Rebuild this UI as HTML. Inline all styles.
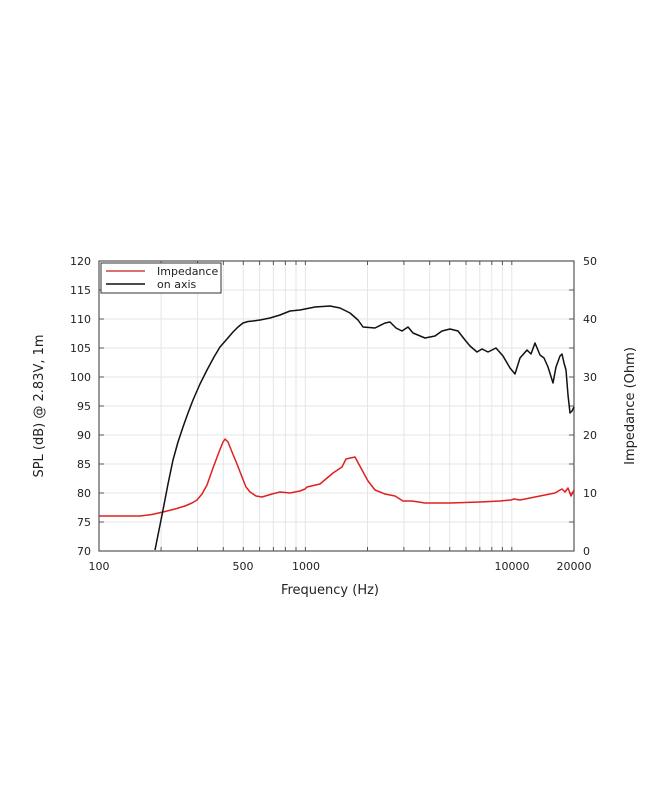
<!DOCTYPE html>
<html><head><style>body{margin:0;background:#fff}svg{display:block}text{font-family:"DejaVu Sans","Liberation Sans",sans-serif;fill:#222}</style></head><body>
<svg width="650" height="794" viewBox="0 0 650 794" xmlns="http://www.w3.org/2000/svg">
<g stroke="#e6e6e6" stroke-width="1">
<line x1="161.1" y1="261" x2="161.1" y2="551"/><line x1="197.5" y1="261" x2="197.5" y2="551"/><line x1="223.3" y1="261" x2="223.3" y2="551"/><line x1="243.3" y1="261" x2="243.3" y2="551"/><line x1="259.6" y1="261" x2="259.6" y2="551"/><line x1="273.4" y1="261" x2="273.4" y2="551"/><line x1="285.4" y1="261" x2="285.4" y2="551"/><line x1="296" y1="261" x2="296" y2="551"/><line x1="305.4" y1="261" x2="305.4" y2="551"/>
<line x1="367.5" y1="261" x2="367.5" y2="551"/><line x1="403.9" y1="261" x2="403.9" y2="551"/><line x1="429.7" y1="261" x2="429.7" y2="551"/><line x1="449.7" y1="261" x2="449.7" y2="551"/><line x1="466" y1="261" x2="466" y2="551"/><line x1="479.8" y1="261" x2="479.8" y2="551"/><line x1="491.8" y1="261" x2="491.8" y2="551"/><line x1="502.4" y1="261" x2="502.4" y2="551"/><line x1="511.8" y1="261" x2="511.8" y2="551"/>
<line x1="99" y1="290" x2="574" y2="290"/><line x1="99" y1="319" x2="574" y2="319"/><line x1="99" y1="348" x2="574" y2="348"/><line x1="99" y1="377" x2="574" y2="377"/><line x1="99" y1="406" x2="574" y2="406"/><line x1="99" y1="435" x2="574" y2="435"/><line x1="99" y1="464" x2="574" y2="464"/><line x1="99" y1="493" x2="574" y2="493"/><line x1="99" y1="522" x2="574" y2="522"/>
</g>
<rect x="99" y="261" width="475" height="290" fill="none" stroke="#555" stroke-width="1.2"/>
<g stroke="#555" stroke-width="1">
<path d="M99 290h5M99 319h5M99 348h5M99 377h5M99 406h5M99 435h5M99 464h5M99 493h5M99 522h5M574 290h-5M574 319h-5M574 348h-5M574 377h-5M574 406h-5M574 435h-5M574 464h-5M574 493h-5M574 522h-5"/>
<path d="M161.1 551v-4M197.5 551v-4M223.3 551v-4M243.3 551v-4M259.6 551v-4M273.4 551v-4M285.4 551v-4M296 551v-4M305.4 551v-4M367.5 551v-4M403.9 551v-4M429.7 551v-4M449.7 551v-4M466 551v-4M479.8 551v-4M491.8 551v-4M502.4 551v-4M511.8 551v-4M161.1 261v4M197.5 261v4M223.3 261v4M243.3 261v4M259.6 261v4M273.4 261v4M285.4 261v4M296 261v4M305.4 261v4M367.5 261v4M403.9 261v4M429.7 261v4M449.7 261v4M466 261v4M479.8 261v4M491.8 261v4M502.4 261v4M511.8 261v4"/>
</g>
<path fill="none" stroke="#e02020" stroke-width="1.5" stroke-linejoin="round" d="M99 516L140 516L152 514.5L163 512L175 509L185 506L192 503L197 500L202 494L207 485L213 468L219 452L223 442L225 439L228 442L232 452L237 464L242 477L246 487L250 492L256 496L262 497L272 494L280 492L290 493L300 491L305 489L307 487L320 484L333 473L342 467L346 459L355 457L362 470L368 481L375 490L385 494L395 496L403 501L412 501L425 503L450 503L480 502L500 501L511 500L514 499L520 500L540 496L555 493L560 490L562 489L565 492L568 488L571 496L574 490"/>
<path fill="none" stroke="#111" stroke-width="1.5" stroke-linejoin="round" d="M155 550L159 530L163 510L168 484L173 460L178 442L183 427L188 413L193 400L200 384L207 370L214 357L220 347L227 339L233 332L238 327L243 323L248 321.5L253 321L260 320L270 318L280 315L290 311L300 310L315 307L330 306L340 308L350 313L358 320L363 327L375 328L385 323L390 322L396 328L402 331L408 327L413 333L425 338L435 336L442 331L450 329L458 331L465 340L470 346L477 352L482 349L488 352L496 348L503 356L510 368L515 374L520 358L527 350L531 354L535 343L540 355L544 358L548 367L553 383L556 367L560 356L562 354L564 363L566 370L568 395L570 413L572 411L574 407"/>
<rect x="101" y="263" width="120" height="30" fill="#fff" stroke="#333" stroke-width="1"/>
<line x1="106" y1="271" x2="145" y2="271" stroke="#c44" stroke-width="1.5"/>
<line x1="106" y1="284" x2="145" y2="284" stroke="#111" stroke-width="1.5"/>
<text x="157" y="275" font-size="11">Impedance</text>
<text x="157" y="288" font-size="11">on axis</text>
<g font-size="11" text-anchor="end">
<text x="91" y="265">120</text><text x="91" y="294">115</text><text x="91" y="323">110</text><text x="91" y="352">105</text><text x="91" y="381">100</text><text x="91" y="410">95</text><text x="91" y="439">90</text><text x="91" y="468">85</text><text x="91" y="497">80</text><text x="91" y="526">75</text><text x="91" y="555">70</text>
</g>
<g font-size="11">
<text x="583" y="265">50</text><text x="583" y="323">40</text><text x="583" y="381">30</text><text x="583" y="439">20</text><text x="583" y="497">10</text><text x="583" y="555">0</text>
</g>
<g font-size="11" text-anchor="middle">
<text x="99" y="570">100</text><text x="243" y="570">500</text><text x="306" y="570">1000</text><text x="512" y="570">10000</text><text x="574" y="570">20000</text>
</g>
<text x="330" y="594" font-size="13" text-anchor="middle">Frequency (Hz)</text>
<text transform="translate(43,406) rotate(-90)" font-size="13" text-anchor="middle">SPL (dB) @ 2.83V, 1m</text>
<text transform="translate(634,406) rotate(-90)" font-size="13" text-anchor="middle">Impedance (Ohm)</text>
</svg>
</body></html>
